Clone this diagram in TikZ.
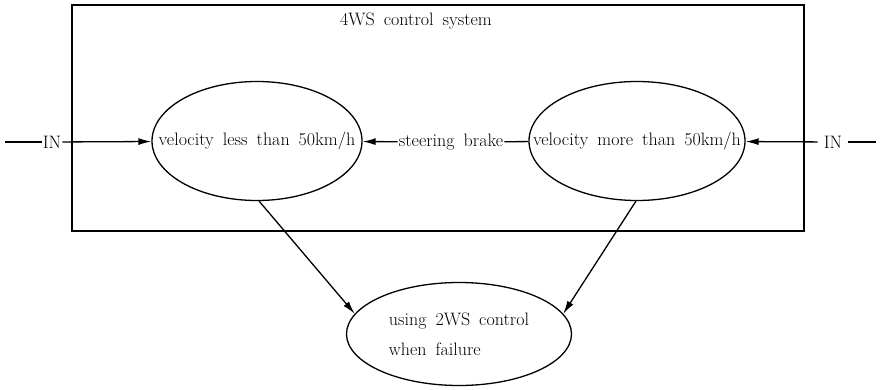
\documentclass[tikz,border=0pt]{standalone}
\usetikzlibrary{shapes.geometric,arrows.meta}
% label font with the wide word spacing of the drawing
\newcommand\diagfont{\fontsize{18}{20}\selectfont\spaceskip=0.5em\relax}
% text that does not widen the ellipse around it
\newcommand\inset[1]{\makebox[0pt]{#1}}
\begin{document}
\begin{tikzpicture}[x=1pt,y=-1pt,
  lbl/.style={font=\diagfont, inner sep=1pt},
  state/.style={ellipse, draw, line width=1.3pt, inner sep=0pt,
    minimum height=119pt, font=\diagfont},
  flow/.style={line width=1.3pt, -{Latex[length=13pt,width=7pt]}},
  plain/.style={line width=1.3pt}]
\useasboundingbox (0,0) rectangle (881,390);
% outer system frame
\node[draw, line width=1.6pt, minimum width=732pt, minimum height=226pt, inner sep=0pt]
  (frame) at (438,118) {};
\node[lbl] (title) at (416,21) {4WS control system};
% states
\node[state, minimum width=210pt] (slow) at (257,141) {\inset{velocity less than 50km/h}};
\node[state, minimum width=216pt] (fast) at (637,141) {\inset{velocity more than 50km/h}};
\node[state, minimum width=225pt, minimum height=103pt] (fail) at (459,334)
  {\inset{\renewcommand\arraystretch{1.5}\begin{tabular}{@{}l@{}}using 2WS control\\when failure\end{tabular}}};
% inputs
\coordinate (inL) at (5,142);
\node[lbl] (inl) at (52,142) {IN};
\draw[plain] (inL) -- (inl);
\draw[flow] (inl) -- (slow);
\coordinate (inR) at (876,142);
\node[lbl, inner sep=6pt] (inr) at (833,142) {IN};
\draw[plain] (inr) -- (inR);
\draw[flow] (inr) -- (fast);
% transition between states
\node[lbl] (brake) at (451,142) {steering brake};
\draw[plain] (fast) -- (brake);
\draw[flow] (brake) -- (slow);
% failure transitions
\draw[flow] (slow.272) -- (fail.169);
\draw[flow] (fast.269) -- (fail.11);
\end{tikzpicture}
\end{document}
